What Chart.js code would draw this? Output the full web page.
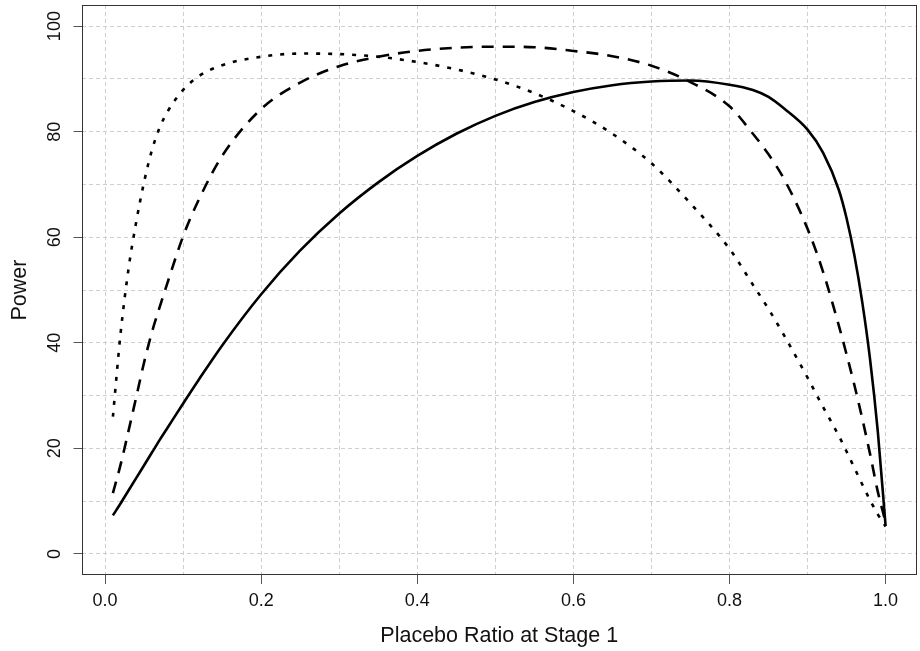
<!DOCTYPE html>
<html>
<head>
<meta charset="utf-8">
<script src="https://cdn.jsdelivr.net/npm/chart.js@4/dist/chart.umd.min.js"></script>
<style>
  html, body { margin: 0; padding: 0; background: #fff; }
  #wrap { width: 920px; height: 651px; }
</style>
</head>
<body>
<div id="wrap"><canvas id="power"></canvas></div>
<script>
// placebo ratio at stage 1 (x) and power (%) for three designs
const ratio = [0.01, 0.02, 0.03, 0.04, 0.05, 0.06, 0.07, 0.08, 0.10, 0.12, 0.15, 0.20, 0.25, 0.30, 0.35, 0.40, 0.45, 0.50,
  0.55, 0.60, 0.65, 0.70, 0.75, 0.80, 0.83, 0.85, 0.87, 0.90, 0.92, 0.94, 0.95, 0.96, 0.97, 0.98, 0.99, 1.00];
const powerSolid = [7.3, 9.6, 12.0, 14.4, 16.8, 19.2, 21.6, 23.9, 28.5, 33.0, 39.5, 49.2, 57.5, 64.5, 70.4, 75.4, 79.6, 83.0,
  85.6, 87.5, 88.8, 89.5, 89.7, 88.9, 87.9, 86.6, 84.4, 80.4, 76.0, 69.0, 63.6, 56.6, 47.8, 37.0, 23.2, 5.3];
const powerDashed = [11.5, 17.0, 23.3, 29.8, 36.3, 42.0, 46.8, 51.4, 60.2, 67.1, 75.4, 84.3, 89.3, 92.4, 94.2, 95.3, 95.9, 96.1,
  96.0, 95.3, 94.3, 92.5, 89.4, 84.8, 79.6, 75.7, 71.0, 61.6, 53.4, 43.3, 37.8, 32.0, 25.7, 19.0, 11.8, 6.0];
const powerDotted = [26.0, 42.0, 54.0, 63.0, 70.5, 76.5, 80.8, 83.8, 87.9, 90.5, 92.6, 94.2, 94.8, 94.7, 94.2, 93.2, 91.8, 89.9,
  87.3, 83.9, 79.6, 74.0, 66.4, 57.8, 51.0, 46.4, 41.4, 33.4, 27.8, 22.4, 19.4, 16.3, 13.2, 10.2, 7.5, 5.2];

// grid every 0.1 / 10, labels every 0.2 / 20
const xGrid = [0, 0.1, 0.2, 0.3, 0.4, 0.5, 0.6, 0.7, 0.8, 0.9, 1.0];
const yGrid = [0, 10, 20, 30, 40, 50, 60, 70, 80, 90, 100];
const xLabels = ["0.0", "", "0.2", "", "0.4", "", "0.6", "", "0.8", "", "1.0"];
const yLabels = ["0", "", "20", "", "40", "", "60", "", "80", "", "100"];

const pts = (ys) => ratio.map((x, i) => ({ x: x, y: ys[i] }));

const font = "'Liberation Sans', Arial, sans-serif";

const boxPlugin = {
  id: "box",
  afterDraw(chart) {
    const a = chart.chartArea;
    const ctx = chart.ctx;
    ctx.save();
    ctx.strokeStyle = "#333";
    ctx.lineWidth = 1;
    ctx.strokeRect(Math.round(a.left) + 0.5, Math.round(a.top) + 0.5,
      Math.round(a.right - a.left) - 1, Math.round(a.bottom - a.top) - 1);
    ctx.restore();
  },
};

function line(data, dash) {
  return {
    data: pts(data),
    borderColor: "#000",
    borderWidth: 2.6,
    borderDash: dash,
    pointRadius: 0,
    fill: false,
    cubicInterpolationMode: "monotone",
  };
}

new Chart(document.getElementById("power"), {
  type: "line",
  data: {
    datasets: [
      line(powerSolid, []),
      line(powerDashed, [12, 9]),
      line(powerDotted, [4, 8]),
    ],
  },
  options: {
    responsive: true,
    maintainAspectRatio: false,
    animation: false,
    layout: { padding: { left: 0, right: 3.5, top: 5, bottom: 0 } },
    plugins: { legend: { display: false }, tooltip: { enabled: false } },
    scales: {
      x: {
        type: "linear",
        min: -0.0296,
        max: 1.0396,
        afterBuildTicks: (axis) => { axis.ticks = xGrid.map((v) => ({ value: v })); },
        afterFit: (axis) => { axis.height = 76; axis.paddingLeft = 0; axis.paddingRight = 0; },
        grid: {
          color: "#cfcfcf",
          lineWidth: 1,
          tickLength: 9,
          tickColor: (c) => (c.index % 2 === 0 ? "#555" : "rgba(0,0,0,0)"),
        },
        border: { display: false, dash: [4, 3] },
        ticks: {
          autoSkip: false,
          maxRotation: 0,
          padding: 6,
          color: "#111",
          font: { family: font, size: 18 },
          callback: (v, i) => xLabels[i],
        },
        title: {
          display: true,
          text: "Placebo Ratio at Stage 1",
          color: "#111",
          font: { family: font, size: 21.5 },
          padding: { top: 0, bottom: 2 },
        },
      },
      y: {
        type: "linear",
        min: -4,
        max: 104,
        afterBuildTicks: (axis) => { axis.ticks = yGrid.map((v) => ({ value: v })); },
        afterFit: (axis) => { axis.width = 82; axis.paddingTop = 0; axis.paddingBottom = 0; },
        grid: {
          color: "#cfcfcf",
          lineWidth: 1,
          tickLength: 8.5,
          tickColor: (c) => (c.index % 2 === 0 ? "#555" : "rgba(0,0,0,0)"),
        },
        border: { display: false, dash: [4, 3] },
        ticks: {
          autoSkip: false,
          minRotation: 90,
          maxRotation: 90,
          crossAlign: "center",
          padding: 3.5,
          color: "#111",
          font: { family: font, size: 18 },
          callback: (v, i) => yLabels[i],
        },
        title: {
          display: true,
          text: "Power",
          color: "#111",
          font: { family: font, size: 21.5 },
          padding: { top: 7, bottom: 0 },
        },
      },
    },
  },
  plugins: [boxPlugin],
});
</script>
</body>
</html>
